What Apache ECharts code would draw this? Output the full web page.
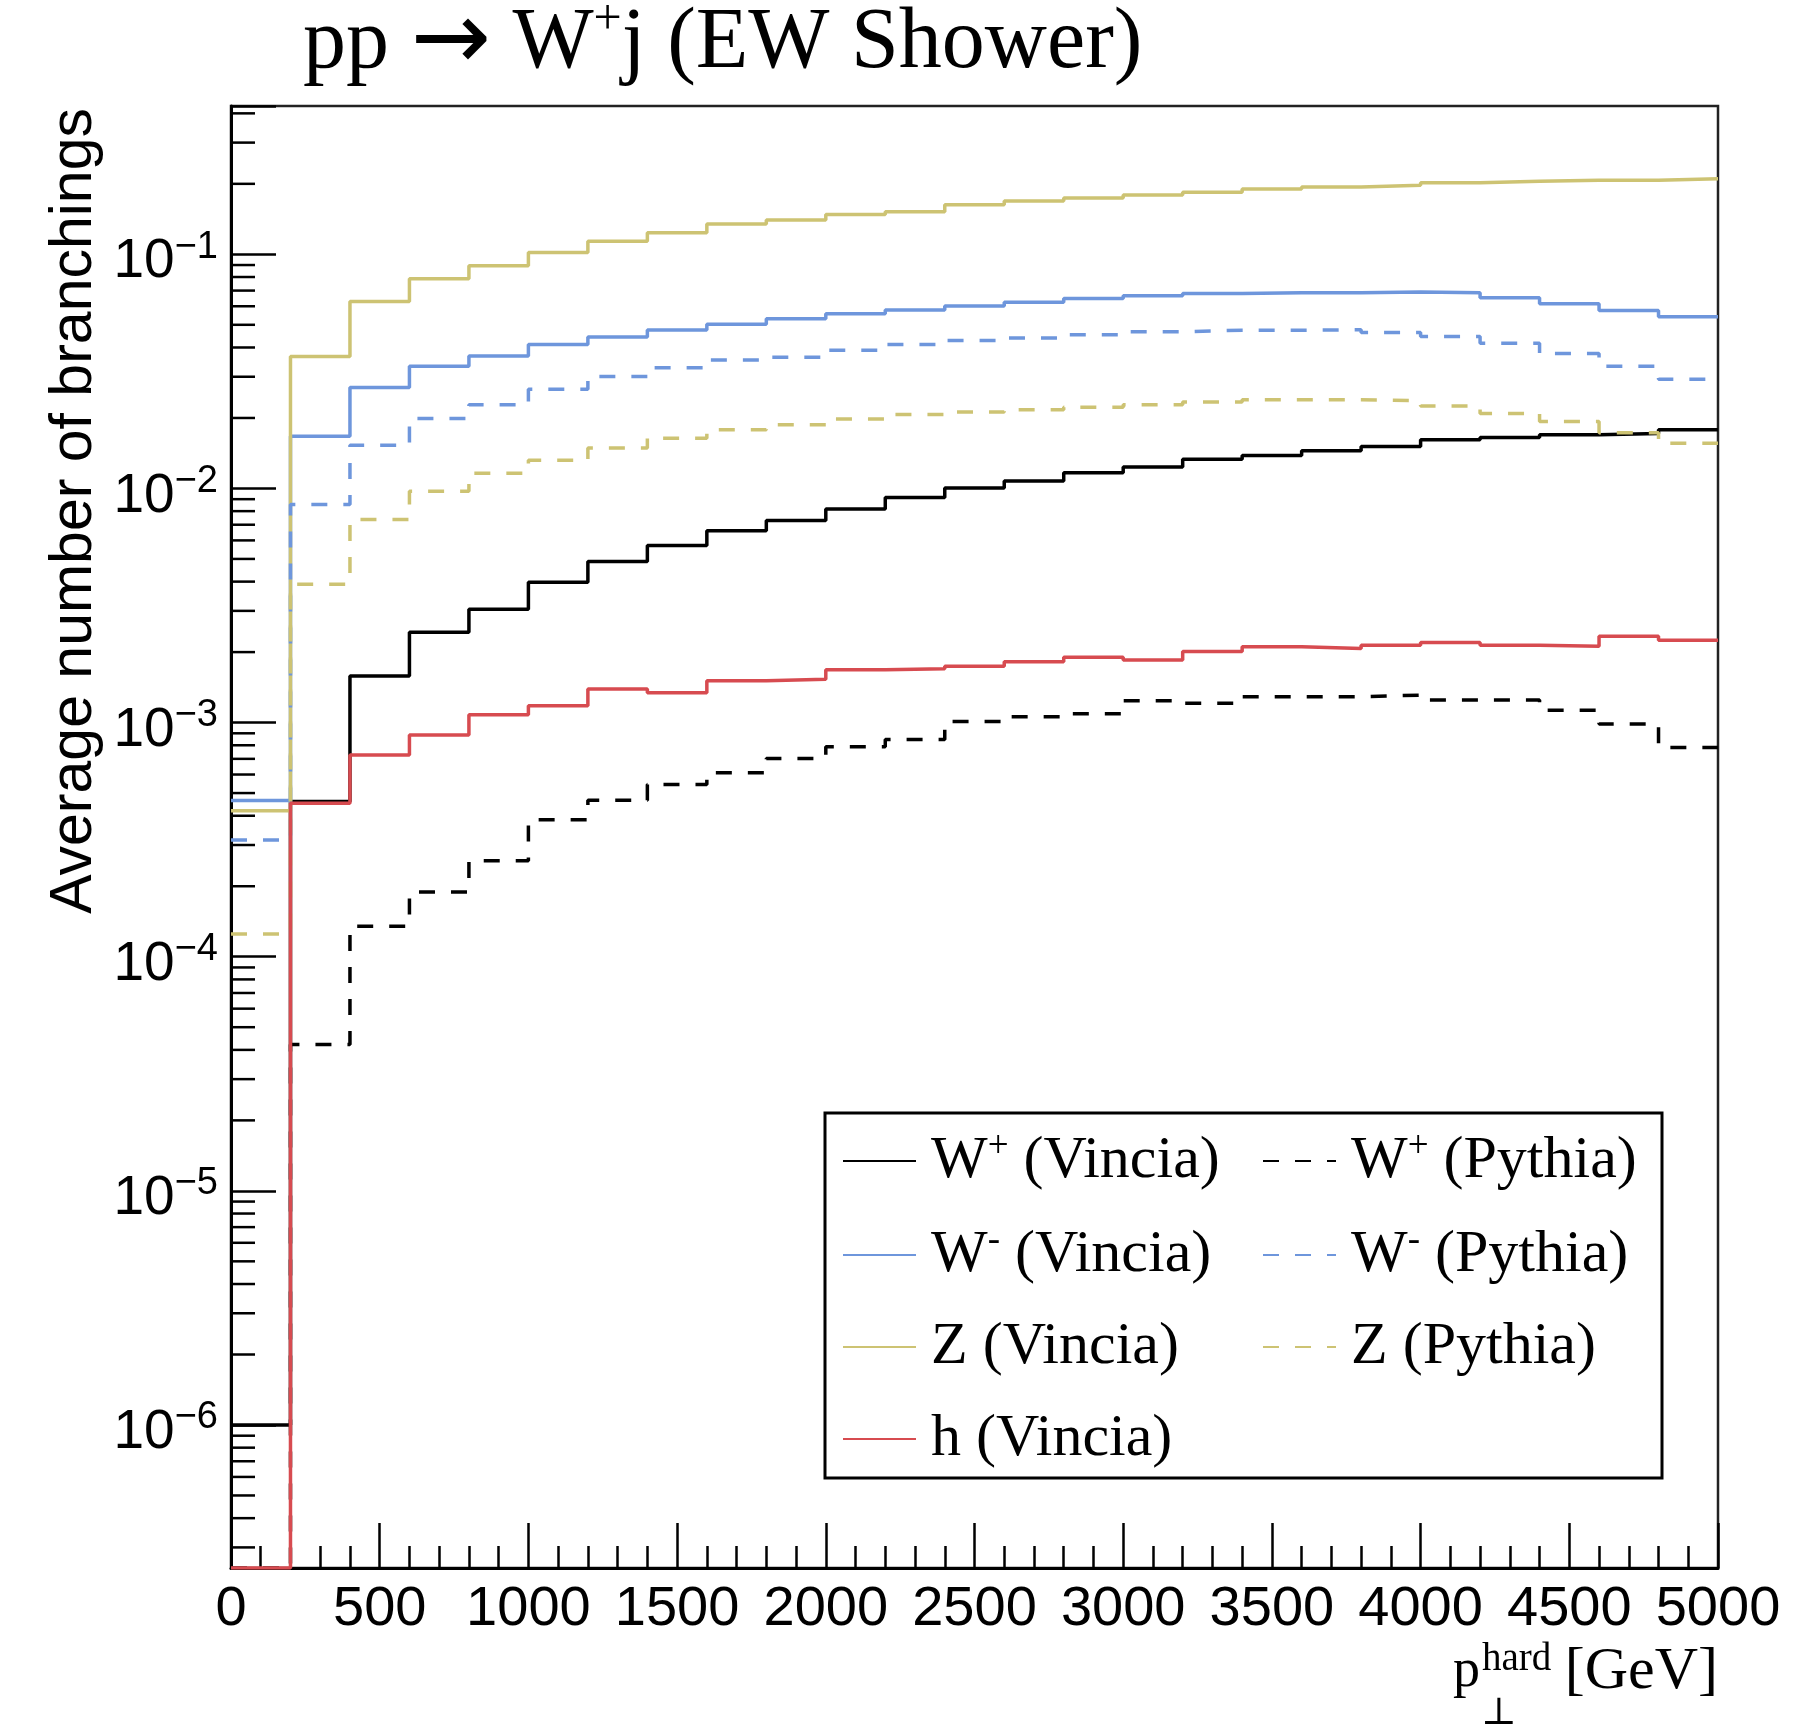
<!DOCTYPE html>
<html>
<head>
<meta charset="utf-8">
<script src="https://cdn.jsdelivr.net/npm/echarts/dist/echarts.min.js"></script>
<style>
  html, body { margin: 0; padding: 0; background: #fff; }
  #chart { width: 1804px; height: 1725px; }
</style>
</head>
<body>
<div id="chart"></div>
<script>
  // bin edges of p_T^hard [GeV], 200 GeV bins
  const binEdges = [0, 200, 400, 600, 800, 1000, 1200, 1400, 1600, 1800, 2000, 2200, 2400,
    2600, 2800, 3000, 3200, 3400, 3600, 3800, 4000, 4200, 4400, 4600, 4800, 5000]

  // bin contents (empty bins sit on the bottom of the frame)
  const wPlusVincia = [1.0e-6, 4.6e-4, 1.58e-3, 2.43e-3, 3.05e-3, 3.98e-3, 4.87e-3, 5.71e-3, 6.59e-3,
    7.3e-3, 8.18e-3, 9.14e-3, 1.004e-2, 1.075e-2, 1.168e-2, 1.235e-2, 1.333e-2, 1.383e-2, 1.45e-2,
    1.51e-2, 1.615e-2, 1.652e-2, 1.697e-2, 1.715e-2, 1.78e-2]
  const wPlusPythia = [2.45e-7, 4.22e-5, 1.35e-4, 1.89e-4, 2.57e-4, 3.85e-4, 4.66e-4, 5.44e-4, 6.1e-4,
    7.03e-4, 7.88e-4, 8.46e-4, 1.01e-3, 1.06e-3, 1.09e-3, 1.24e-3, 1.21e-3, 1.29e-3, 1.29e-3,
    1.31e-3, 1.25e-3, 1.25e-3, 1.13e-3, 9.85e-4, 7.83e-4]
  const wMinusVincia = [4.65e-4, 0.0167, 0.027, 0.0333, 0.0368, 0.0412, 0.0444, 0.0475, 0.0503,
    0.053, 0.0557, 0.0579, 0.0601, 0.0624, 0.0648, 0.0665, 0.068, 0.0686, 0.0686,
    0.069, 0.0686, 0.0653, 0.0615, 0.0575, 0.0541]
  const wMinusPythia = [3.15e-4, 0.00855, 0.0153, 0.0199, 0.0228, 0.0265, 0.0301, 0.0328, 0.0354,
    0.0363, 0.0389, 0.0412, 0.0428, 0.0439, 0.0453, 0.0467, 0.0474, 0.0474, 0.0476,
    0.0464, 0.0446, 0.0417, 0.0377, 0.0333, 0.0293]
  const zVincia = [4.2e-4, 0.0366, 0.0628, 0.0787, 0.0893, 0.1019, 0.1136, 0.1237, 0.1348,
    0.140, 0.148, 0.152, 0.163, 0.169, 0.174, 0.179, 0.184, 0.19, 0.194,
    0.197, 0.202, 0.205, 0.207, 0.207, 0.21]
  const zPythia = [1.25e-4, 0.0039, 0.00737, 0.00974, 0.0116, 0.0132, 0.0149, 0.0164, 0.0178,
    0.0187, 0.0198, 0.0207, 0.0212, 0.0217, 0.0222, 0.0228, 0.0234, 0.0239, 0.0239,
    0.0237, 0.0225, 0.0209, 0.0193, 0.0173, 0.0156]
  const hVincia = [2.45e-7, 4.52e-4, 7.27e-4, 8.85e-4, 1.08e-3, 1.18e-3, 1.39e-3, 1.34e-3, 1.51e-3,
    1.53e-3, 1.68e-3, 1.70e-3, 1.74e-3, 1.82e-3, 1.90e-3, 1.85e-3, 2.01e-3, 2.11e-3, 2.07e-3,
    2.14e-3, 2.20e-3, 2.14e-3, 2.12e-3, 2.34e-3, 2.25e-3]

  // axis ranges and ticks
  const xMin = 0, xMax = 5000, xInterval = 500
  const yMin = 2.45e-7, yMax = 0.43
  const yDecades = [-7, -6, -5, -4, -3, -2, -1]
  const minorSteps = [2, 3, 4, 5, 6, 7, 8, 9]

  const serif = "'Liberation Serif', 'DejaVu Serif', serif"
  const sans = "'Liberation Sans', Arial, sans-serif"

  const colBlack = '#000000'
  const colBlue = '#6e96dc'
  const colYellow = '#cdc373'
  const colRed = '#d74b50'
  const dash = [16, 16]

  // legend labels with superscripts
  const legendLabels = {
    'W+ (Vincia)': '{t|W}{s|+}{t| (Vincia)}',
    'W+ (Pythia)': '{t|W}{s|+}{t| (Pythia)}',
    'W- (Vincia)': '{t|W}{s|-}{t| (Vincia)}',
    'W- (Pythia)': '{t|W}{s|-}{t| (Pythia)}',
    'Z (Vincia)': '{t|Z (Vincia)}',
    'Z (Pythia)': '{t|Z (Pythia)}',
    'h (Vincia)': '{t|h (Vincia)}'
  }

  function toSteps(values) {
    let pts = values.map((v, i) => [binEdges[i], v])
    pts.push([binEdges[binEdges.length - 1], values[values.length - 1]])
    return pts
  }

  function histSeries(name, values, color, width, type) {
    return {
      name: name,
      type: 'line',
      step: 'end',
      symbol: 'none',
      showSymbol: false,
      silent: true,
      clip: true,
      animation: false,
      data: toSteps(values),
      itemStyle: {color: color},
      lineStyle: {color: color, width: width, type: type}
    }
  }

  let yMinorTicks = []
  yDecades.forEach(d => {
    minorSteps.forEach(m => {
      let v = m * Math.pow(10, d)
      if (v > yMin && v < yMax) yMinorTicks.push(v)
    })
  })

  const legendText = {
    fontFamily: serif,
    fontSize: 60,
    color: '#000',
    padding: [0, 0, 0, 10],
    rich: {
      t: {fontFamily: serif, fontSize: 60, lineHeight: 64, color: '#000'},
      s: {fontFamily: serif, fontSize: 37, lineHeight: 34, verticalAlign: 'top', color: '#000'}
    }
  }

  function legendColumn(left, names) {
    return {
      orient: 'vertical',
      left: left,
      top: 1129,
      padding: 0,
      itemWidth: 73,
      itemHeight: 20,
      itemGap: 32,
      itemStyle: {opacity: 0},
      data: names,
      formatter: name => legendLabels[name],
      textStyle: legendText,
      selectedMode: false
    }
  }

  const chart = echarts.init(document.getElementById('chart'))
  chart.setOption({
    backgroundColor: '#fff',
    animation: false,
    title: {
      text: '{a|pp }{r|\u2192}{a| W}{s|+}{a|j (EW Shower)}',
      left: 303,
      top: -4,
      padding: 0,
      textStyle: {
        fontFamily: serif,
        fontSize: 86,
        fontWeight: 'normal',
        color: '#000',
        rich: {
          a: {fontFamily: serif, fontSize: 86, lineHeight: 96, color: '#000'},
          r: {fontFamily: "'DejaVu Sans', sans-serif", fontSize: 96, lineHeight: 96, color: '#000'},
          s: {fontFamily: serif, fontSize: 50, lineHeight: 30, verticalAlign: 'top', color: '#000'}
        }
      }
    },
    grid: {
      left: 231,
      right: 86,
      top: 106,
      bottom: 157,
      show: true,
      borderColor: '#222',
      borderWidth: 2.5,
      containLabel: false,
      outerBoundsMode: 'none'
    },
    legend: [
      legendColumn(842, ['W+ (Vincia)', 'W- (Vincia)', 'Z (Vincia)', 'h (Vincia)']),
      legendColumn(1262, ['W+ (Pythia)', 'W- (Pythia)', 'Z (Pythia)'])
    ],
    xAxis: {
      type: 'value',
      min: xMin,
      max: xMax,
      interval: xInterval,
      axisLine: {show: true, onZero: false, lineStyle: {color: '#000', width: 3}},
      axisTick: {show: true, inside: true, length: 45, lineStyle: {color: '#000', width: 2.5}},
      minorTick: {show: true, splitNumber: 5, length: 22, lineStyle: {color: '#000', width: 2.5}},
      splitLine: {show: false},
      axisLabel: {
        show: true,
        margin: 14,
        color: '#000',
        fontFamily: sans,
        fontSize: 56,
        showMinLabel: true,
        showMaxLabel: true,
        formatter: value => String(value)
      }
    },
    yAxis: {
      type: 'log',
      logBase: 10,
      min: yMin,
      max: yMax,
      axisLine: {show: true, onZero: false, lineStyle: {color: '#000', width: 3}},
      axisTick: {show: true, inside: true, length: 45, lineStyle: {color: '#000', width: 2.5}},
      minorTick: {show: false},
      splitLine: {show: false},
      axisLabel: {
        show: true,
        margin: 13,
        color: '#000',
        formatter: function (value) {
          let lg = Math.log10(value)
          let e = Math.round(lg)
          if (Math.abs(lg - e) > 1e-6) return ''
          return '{b|10}{e|\u2212' + (-e) + '}'
        },
        rich: {
          b: {fontFamily: sans, fontSize: 55, lineHeight: 52, padding: [16, 0, 0, 0], color: '#000'},
          e: {fontFamily: sans, fontSize: 38, lineHeight: 50, verticalAlign: 'top', color: '#000'}
        }
      }
    },
    graphic: {
      elements: [
        {
          type: 'text',
          x: 75,
          y: 108,
          rotation: Math.PI / 2,
          silent: true,
          style: {
            text: 'Average number of branchings',
            fontFamily: sans,
            fontSize: 59,
            fill: '#000',
            align: 'right',
            verticalAlign: 'middle'
          }
        },
        {
          type: 'text', x: 1453, y: 1672, silent: true,
          style: {text: 'p', fontFamily: serif, fontSize: 54, fill: '#000', align: 'left', verticalAlign: 'middle'}
        },
        {
          type: 'text', x: 1482, y: 1660, silent: true,
          style: {text: 'hard', fontFamily: serif, fontSize: 39, fill: '#000', align: 'left', verticalAlign: 'middle'}
        },
        {
          type: 'text', x: 1481, y: 1714, silent: true,
          style: {text: '\u22a5', fontFamily: serif, fontSize: 38, fill: '#000', align: 'left', verticalAlign: 'middle'}
        },
        {
          type: 'text', x: 1718, y: 1672, silent: true,
          style: {text: '[GeV]', fontFamily: serif, fontSize: 60, fill: '#000', align: 'right', verticalAlign: 'middle'}
        },
        {
          type: 'rect',
          silent: true,
          z: 3,
          shape: {x: 825, y: 1113, width: 837, height: 365},
          style: {fill: 'transparent', stroke: '#000', lineWidth: 3}
        }
      ]
    },
    series: [
      histSeries('W+ (Vincia)', wPlusVincia, colBlack, 3.5, 'solid'),
      histSeries('W- (Vincia)', wMinusVincia, colBlue, 3.5, 'solid'),
      histSeries('Z (Vincia)', zVincia, colYellow, 3.5, 'solid'),
      histSeries('W+ (Pythia)', wPlusPythia, colBlack, 3.5, dash),
      histSeries('W- (Pythia)', wMinusPythia, colBlue, 3.5, dash),
      histSeries('Z (Pythia)', zPythia, colYellow, 3.5, dash),
      histSeries('h (Vincia)', hVincia, colRed, 3.5, 'solid'),
      {
        // log minor ticks at 2..9 x 10^n on the left axis
        type: 'custom',
        silent: true,
        z: 10,
        animation: false,
        data: yMinorTicks.map(v => [xMin, v]),
        renderItem: function (params, api) {
          let p = api.coord([xMin, api.value(1)])
          return {
            type: 'line',
            shape: {x1: p[0], y1: p[1], x2: p[0] + 24, y2: p[1]},
            style: {stroke: '#000', lineWidth: 2.5}
          }
        }
      }
    ]
  })
</script>
</body>
</html>
